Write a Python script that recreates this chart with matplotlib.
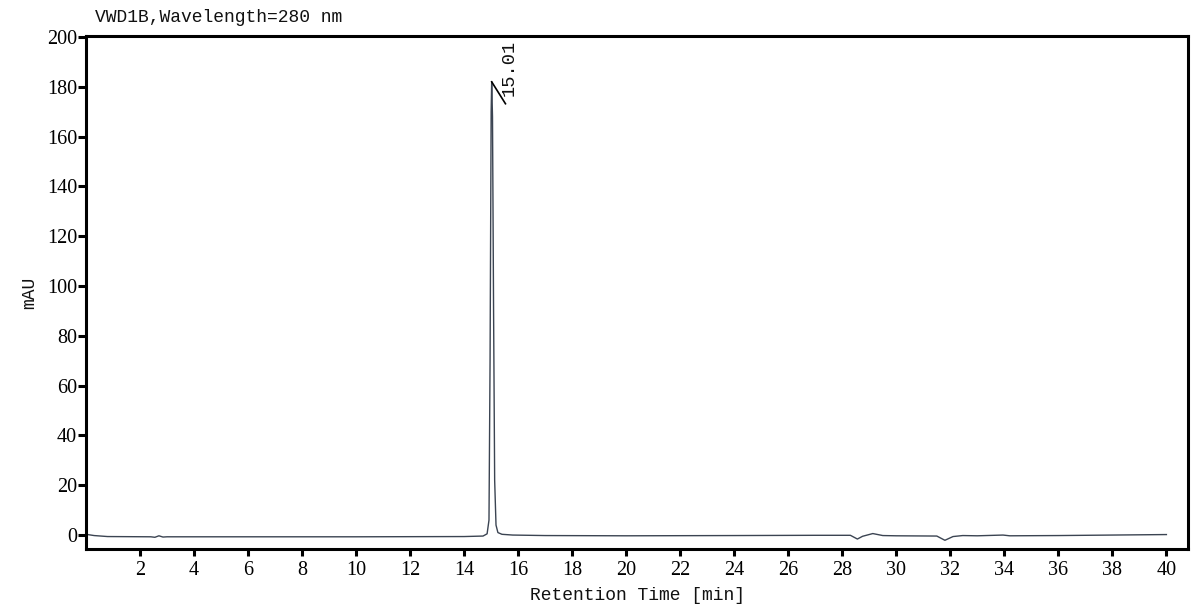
import matplotlib
matplotlib.use("Agg")
import matplotlib.pyplot as plt

# chromatogram trace (time in min, signal in mAU)
rt = [0.0, 0.3, 0.8, 2.4, 2.55, 2.7, 2.85, 3.0, 6.0, 10.0, 14.0, 14.7, 14.85,
      14.92, 14.96, 15.0, 15.02, 15.05, 15.09, 15.13, 15.18, 15.25, 15.4, 15.8,
      17.0, 20.0, 24.0, 27.0, 28.3, 28.56, 28.75, 29.13, 29.5, 30.0, 31.5, 31.8,
      32.1, 32.46, 33.0, 33.95, 34.2, 36.0, 38.0, 40.0]
mau = [0.3, -0.2, -0.6, -0.7, -0.9, -0.3, -0.8, -0.7, -0.7, -0.7, -0.6, -0.4, 0.5,
       6.0, 70.0, 170.0, 182.0, 168.0, 90.0, 22.0, 4.0, 1.0, 0.3, 0.0,
       -0.2, -0.3, -0.2, -0.1, -0.1, -1.6, -0.5, 0.6, -0.2, -0.3, -0.4, -2.1,
       -0.6, -0.2, -0.3, 0.0, -0.3, -0.2, 0.0, 0.2]

peak_rt = 15.01
peak_top = 182.0
xticks = list(range(2, 41, 2))
yticks = list(range(0, 201, 20))

mono = "Liberation Mono"
serif = "Liberation Serif"

fig = plt.figure(figsize=(12, 6.05), dpi=100)
ax = fig.add_axes([86 / 1200, 1 - 549 / 605, (1188 - 86) / 1200, (549 - 36) / 605])

ax.plot(rt, mau, color="#3b4452", lw=1.0)

# peak marker + retention time label
ax.plot([peak_rt + 0.01, peak_rt + 0.52], [peak_top, peak_top - 8.8], color="black", lw=1.2)
ax.text(peak_rt + 0.33, peak_top - 5.5, f"{peak_rt:.2f}", rotation=90, family=mono,
        fontsize=13.5, va="bottom", ha="left", color="#111111")

ax.set_xlim(0, 40.8)
ax.set_ylim(-5.6, 200.4)
ax.set_xticks(xticks)
ax.set_yticks(yticks)
ax.set_xticklabels([str(v) for v in xticks], family=serif, fontsize=14.5)
ax.set_yticklabels([str(v) for v in yticks], family=serif, fontsize=14.5)
ax.tick_params(axis="x", direction="out", length=5, width=2.2, pad=3.5)
ax.tick_params(axis="y", direction="out", length=6, width=2.2, pad=0.5)
for s in ax.spines.values():
    s.set_linewidth(2.2)

ax.set_xlabel("Retention Time [min]", family=mono, fontsize=13, labelpad=5, color="#111111")
ax.set_ylabel("mAU", family=mono, fontsize=13, labelpad=6, color="#111111")
fig.text(95 / 1200, 1 - 18 / 605, "VWD1B,Wavelength=280 nm", family=mono,
         fontsize=13, va="center", ha="left", color="#111111")

fig.savefig("out.png", dpi=100)
